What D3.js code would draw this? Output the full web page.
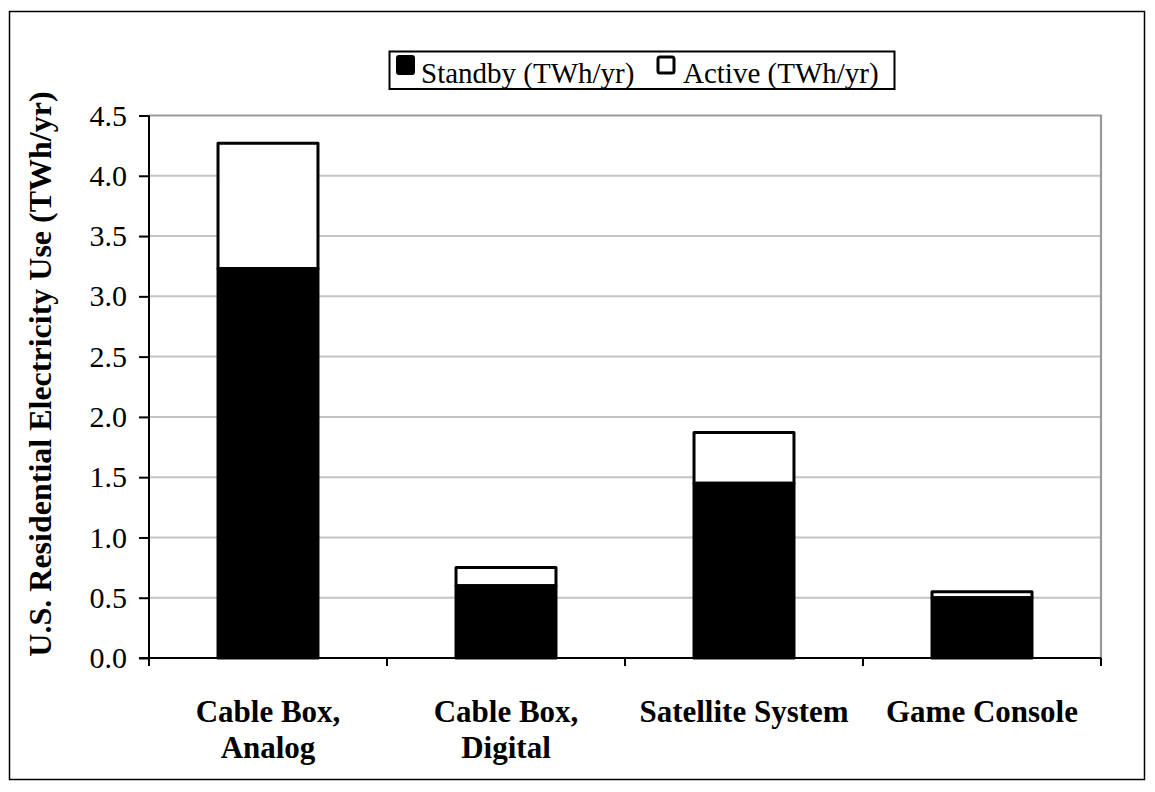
<!DOCTYPE html>
<html><head><meta charset="utf-8">
<script src="https://cdn.jsdelivr.net/npm/d3@7"></script>
<style>
body{margin:0;background:#fff;}
text{font-family:"Liberation Serif","Times New Roman",serif;fill:#000;}
</style></head>
<body>
<svg id="chart" width="1155" height="792"></svg>
<script>
const categories = [["Cable Box,","Analog"],["Cable Box,","Digital"],["Satellite System"],["Game Console"]];
const categoryKeys = ["Cable Box, Analog","Cable Box, Digital","Satellite System","Game Console"];
const standby = [3.23, 0.60, 1.45, 0.50];
const active = [1.04, 0.15, 0.42, 0.05];
const yTicks = [0,0.5,1,1.5,2,2.5,3,3.5,4,4.5];
const seriesNames = ["Standby (TWh/yr)","Active (TWh/yr)"];
const yTitle = "U.S. Residential Electricity Use (TWh/yr)";

const svg = d3.select("#chart");
const L=149, R=1101, T=115.5, B=658;

// outer frame
svg.append("rect").attr("x",9.5).attr("y",11.5).attr("width",1135).attr("height",768)
  .attr("fill","none").attr("stroke","#000").attr("stroke-width",1.5);

const x = d3.scaleBand().domain(categoryKeys).range([L,R]).padding(0);
const y = d3.scaleLinear().domain([0,4.5]).range([B,T]);

// gridlines
svg.append("g").selectAll("line").data(yTicks.filter(d=>d>0 && d<4.5)).join("line")
  .attr("x1",L).attr("x2",R).attr("y1",d=>y(d)).attr("y2",d=>y(d))
  .attr("stroke","#c4c4c4").attr("stroke-width",2);
// plot border top/right
svg.append("path").attr("d",`M${L},${y(4.5)}H${R}V${B}`).attr("fill","none")
  .attr("stroke","#999").attr("stroke-width",2.2);

// bars
const bw = x.bandwidth()*0.42;
const data = categoryKeys.map((k,i)=>({k, s:standby[i], a:active[i]}));
const g = svg.append("g");
g.selectAll("rect.act").data(data).join("rect").attr("class","act")
  .attr("x",d=>x(d.k)+x.bandwidth()/2-bw/2).attr("width",bw)
  .attr("y",d=>y(d.s+d.a)).attr("height",d=>y(d.s)-y(d.s+d.a))
  .attr("fill","#fff").attr("stroke","#000").attr("stroke-width",3).attr("stroke-linejoin","round");
g.selectAll("rect.sb").data(data).join("rect").attr("class","sb")
  .attr("x",d=>x(d.k)+x.bandwidth()/2-bw/2).attr("width",bw)
  .attr("y",d=>y(d.s)).attr("height",d=>B-y(d.s))
  .attr("fill","#000").attr("stroke","#000").attr("stroke-width",3).attr("stroke-linejoin","round");

// y axis
const yAxis = d3.axisLeft(y).tickValues(yTicks).tickFormat(d3.format(".1f")).tickSize(10).tickPadding(12);
const ya = svg.append("g").attr("transform",`translate(${L},0)`).call(yAxis);
ya.attr("font-family",null);
ya.select(".domain").attr("stroke","#000").attr("stroke-width",2).attr("d",`M0,${T}V${B}`);
ya.selectAll(".tick line").attr("stroke","#000").attr("stroke-width",2);
ya.selectAll(".tick text").attr("font-size",30).attr("fill","#000");

// x axis
const bounds = categoryKeys.map(k=>x(k)).concat([R]);
svg.append("line").attr("x1",L-10).attr("x2",R).attr("y1",B).attr("y2",B).attr("stroke","#000").attr("stroke-width",2);
svg.append("g").selectAll("line").data(bounds).join("line")
  .attr("x1",d=>d).attr("x2",d=>d).attr("y1",B).attr("y2",B+8).attr("stroke","#000").attr("stroke-width",2);

// x labels
const xl = svg.append("g").selectAll("text").data(categories).join("text")
  .attr("x",(d,i)=>x(categoryKeys[i])+x.bandwidth()/2).attr("y",722)
  .attr("text-anchor","middle").attr("font-size",31).attr("font-weight","bold");
xl.selectAll("tspan").data(d=>d).join("tspan")
  .attr("x",function(){return this.parentNode.getAttribute("x");})
  .attr("dy",(d,i)=>i===0?0:36).text(d=>d);

// y title
svg.append("text").attr("transform",`translate(51,374) rotate(-90)`)
  .attr("text-anchor","middle").attr("font-size",32).attr("font-weight","bold").text(yTitle);

// legend
const lg = svg.append("g");
lg.append("rect").attr("x",389.5).attr("y",51.5).attr("width",505).attr("height",37.5)
  .attr("fill","#fff").attr("stroke","#000").attr("stroke-width",2);
lg.append("rect").attr("x",397).attr("y",56).attr("width",17).attr("height",18).attr("rx",2)
  .attr("fill","#000").attr("stroke","#000").attr("stroke-width",2);
lg.append("text").attr("x",421).attr("y",83).attr("font-size",29).text(seriesNames[0]);
lg.append("rect").attr("x",658).attr("y",57).attr("width",16).attr("height",16).attr("rx",2)
  .attr("fill","#fff").attr("stroke","#000").attr("stroke-width",3);
lg.append("text").attr("x",683).attr("y",83).attr("font-size",29).text(seriesNames[1]);
</script>
</body></html>
